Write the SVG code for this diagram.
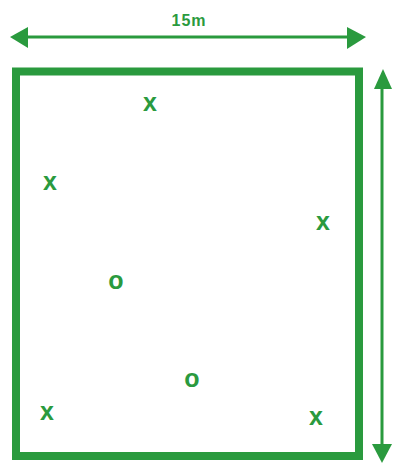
<svg xmlns="http://www.w3.org/2000/svg" width="393" height="465" viewBox="0 0 393 465">
<defs>
<style>
.g{stroke:#2a9a3e;fill:none}
.h{fill:#2a9a3e;stroke:none}
.m{font-family:"Liberation Sans",Arial,sans-serif;font-weight:bold;fill:#2a9a3e;text-anchor:middle}
</style>
</defs>
<rect width="393" height="465" fill="#ffffff"/>
<g id="field">
<rect class="g" x="16" y="71.5" width="343" height="384.5" stroke-width="8"/>
</g>
<g id="connectors">
<line class="g" x1="24" y1="37" x2="350" y2="37" stroke-width="3"/>
<polygon class="h" points="10,37 28,27 28,48"/>
<polygon class="h" points="366,37 347,27 347,49"/>
<line class="g" x1="382" y1="84" x2="382" y2="448" stroke-width="3"/>
<polygon class="h" points="383,69 374,89 392,89"/>
<polygon class="h" points="382,463 372,444 392,444"/>
</g>
<g id="label-width">
<text class="m" x="189" y="26" font-size="16" letter-spacing="1">15m</text>
</g>
<g id="marks">
<text class="m" x="150" y="111" font-size="25">x</text>
<text class="m" x="50" y="190" font-size="25">x</text>
<text class="m" x="323" y="230" font-size="25">x</text>
<text class="m" x="47" y="420" font-size="25">x</text>
<text class="m" x="316" y="425" font-size="25">x</text>
<text class="m" x="116" y="289" font-size="25">o</text>
<text class="m" x="192" y="387" font-size="25">o</text>
</g>
</svg>
